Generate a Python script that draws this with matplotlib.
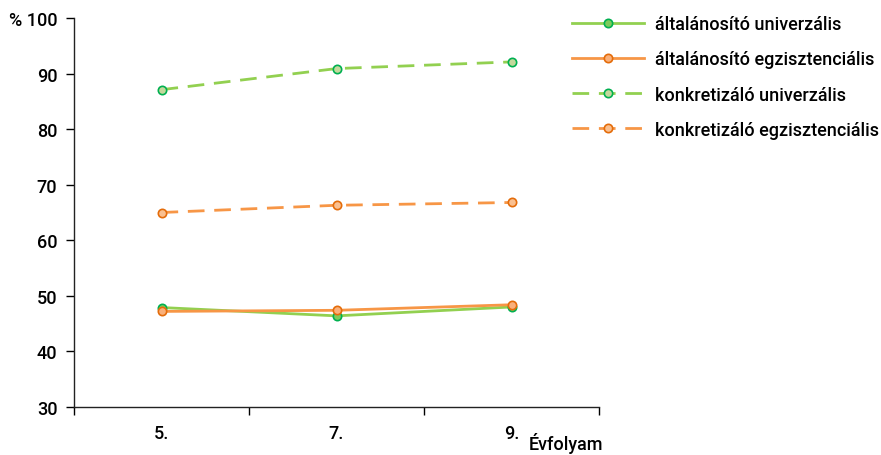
import matplotlib
matplotlib.use("Agg")
import matplotlib.pyplot as plt

# data
grades = ['5.', '7.', '9.']
alt_univ = [47.9, 46.4, 48.0]
alt_egz = [47.2, 47.4, 48.4]
konk_univ = [87.1, 90.9, 92.1]
konk_egz = [65.0, 66.3, 66.8]
series_names = ['általánosító univerzális', 'általánosító egzisztenciális',
                'konkretizáló univerzális', 'konkretizáló egzisztenciális']
yticks = [30, 40, 50, 60, 70, 80, 90, 100]

plt.rcParams['font.family'] = ['Roboto', 'DejaVu Sans']
plt.rcParams['font.weight'] = 'medium'
fs = 13

green = '#92D050'
green_edge = '#00B050'
orange = '#F79646'
orange_edge = '#E46C0A'
dash = (0, (6, 3.5))

fig = plt.figure(figsize=(8.81, 4.56), dpi=100)
ax = fig.add_axes([74/881, 1-408/456, 525/881, 389/456])

x = [0, 1, 2]
ax.plot(x, alt_univ, color=green, lw=2, marker='o', ms=6, mfc='#7CCB5A',
        mec=green_edge, mew=1.2, label=series_names[0])
ax.plot(x, alt_egz, color=orange, lw=2, marker='o', ms=6, mfc='#FAB07A',
        mec=orange_edge, mew=1.2, label=series_names[1])
ax.plot(x, konk_univ, color=green, lw=2, ls=dash, marker='o', ms=6,
        mfc='#C4D89C', mec=green_edge, mew=1.2, label=series_names[2])
ax.plot(x, konk_egz, color=orange, lw=2, ls=dash, marker='o', ms=6,
        mfc='#FAC090', mec=orange_edge, mew=1.2, label=series_names[3])

ax.set_xlim(-0.5, 2.5)
ax.set_ylim(30, 100)
ax.set_yticks(yticks)
ax.set_yticklabels(['% 100' if v == 100 else str(v) for v in yticks])
ax.set_xticks(x)
ax.set_xticklabels(grades)
ax.set_xticks([-0.5, 0.5, 1.5, 2.5], minor=True)
ax.tick_params(axis='x', which='major', length=0, pad=12, labelsize=fs)
ax.tick_params(axis='x', which='minor', length=6, width=1, direction='out')
ax.tick_params(axis='y', length=6, width=1, labelsize=fs, pad=6)
for s in ['top', 'right']:
    ax.spines[s].set_visible(False)
for s in ['left', 'bottom']:
    ax.spines[s].set_color('#222222')
    ax.spines[s].set_linewidth(1)

fig.text(566/881, 2/456, 'Évfolyam', ha='center', va='bottom', fontsize=fs)

ax.legend(loc='upper left', bbox_to_anchor=(565/881, 1-9/456),
          bbox_transform=fig.transFigure, frameon=False, fontsize=fs,
          handlelength=4.0, handletextpad=0.6, labelspacing=0.95,
          borderaxespad=0)

fig.savefig('out.png', dpi=100)
